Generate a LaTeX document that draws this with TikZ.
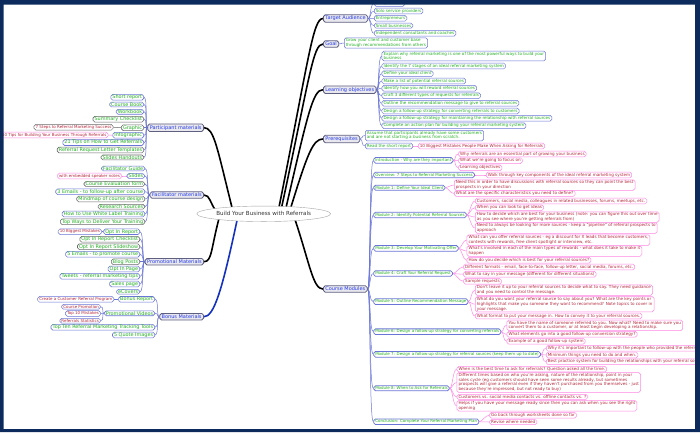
\documentclass[tikz,border=0pt]{standalone}
\usepackage{fontspec}
\setmainfont{DejaVu Sans}
\usetikzlibrary{shapes.geometric}
\definecolor{brd}{RGB}{95,95,130}
\definecolor{brfill}{RGB}{232,232,238}
\definecolor{tblue}{RGB}{40,60,230}
\definecolor{lblue}{RGB}{105,118,215}
\definecolor{tgreen}{RGB}{35,175,35}
\definecolor{lpink}{RGB}{255,135,228}
\definecolor{tred}{RGB}{180,40,60}
\definecolor{dgray}{RGB}{105,105,105}
\definecolor{navy}{RGB}{12,42,92}
\definecolor{trunkblue}{RGB}{20,50,190}
\newcommand\fza{\fontsize{4.12}{4.7}\selectfont}
\newcommand\fzb{\fontsize{4.0}{4.7}\selectfont}
\newcommand\fzc{\fontsize{4.9}{5.6}\selectfont}
\newcommand\fzd{\fontsize{4.0}{4.8}\selectfont}
\newcommand\fze{\fontsize{5}{6}\selectfont}
\newcommand\fzf{\fontsize{5.6}{6.5}\selectfont}
\pgfdeclarelayer{bg}
\pgfdeclarelayer{fg}
\pgfsetlayers{bg,main,fg}
\tikzset{
 base/.style={rounded corners=1.8pt, inner xsep=1.6pt, inner ysep=0.9pt, align=left, fill=white},
 br/.style={base, draw=brd, fill=brfill, line width=0.8pt, text=tblue, font=\fze, inner xsep=2pt, inner ysep=1.3pt},
 gl/.style={base, draw=lblue, line width=0.5pt, text=tgreen, font=\fza},
 md/.style={gl, line width=0.75pt, font=\fzb},
 pl/.style={base, draw=lpink, line width=0.5pt, text=tred, font=\fza},
 lg/.style={base, draw=lblue, line width=0.6pt, text=tgreen, font=\fzc, inner ysep=0.5pt},
 lgy/.style={lg, draw=dgray},
 lr/.style={base, draw=lblue, line width=0.5pt, text=tred, font=\fzd},
 lrp/.style={lr, draw=lpink},
 lrg/.style={lr, draw=dgray},
 cb/.style={draw=lblue, line width=0.5pt},
 cp/.style={draw=lpink, line width=0.5pt},
 cg/.style={draw=dgray, line width=0.5pt},
 trunk/.style={line width=1.6pt, black},
}
\newcommand\lkr[3][cb]{\draw[#1] (#2.east) .. controls +(3,0) and +(-4,0) .. (#3.west);}
\newcommand\lkl[3][cb]{\draw[#1] (#2.west) .. controls +(-3,0) and +(4,0) .. (#3.east);}
\begin{document}
\begin{tikzpicture}[x=1pt,y=-1pt]
\useasboundingbox (0,0) rectangle (700,432);
% centre
\node[ellipse, draw=gray!70, fill=white, minimum width=106pt, minimum height=15.5pt, inner sep=0pt, font=\fzf, text=black!80] (c) at (263.7,213.8) {Build Your Business with Referrals};
% right branches
\node[br, anchor=west] (ta) at (323,18.5) {Target Audience};
\node[br, anchor=west] (goal) at (323,44) {Goal};
\node[br, anchor=west] (lo) at (323,89.7) {Learning objectives};
\node[br, anchor=west] (pre) at (323,139) {Prerequisites};
\node[br, anchor=west] (cm) at (323,289) {Course Modules};
% left branches
\node[br, anchor=east] (pm) at (204,127.7) {Participant materials};
\node[br, anchor=east] (fm) at (204,195) {Facilitator materials};
\node[br, anchor=east] (prm) at (204,261.7) {Promotional Materials};
\node[br, anchor=east] (bm) at (204,316.7) {Bonus Materials};
% target audience
\node[gl, anchor=west] (ta1) at (374,3.5) {Solopreneurs};
\node[gl, anchor=west] (ta2) at (374,11) {Solo service providers};
\node[gl, anchor=west] (ta3) at (374,18.3) {Entrepreneurs};
\node[gl, anchor=west] (ta4) at (374,25.7) {Small businesses};
\node[gl, anchor=west] (ta5) at (374,33.3) {Independent consultants and coaches};
% goal
\node[gl, anchor=west] (g1) at (344,43) {Grow your client and customer base\\through recommendations from others};
% learning objectives
\node[gl, anchor=west] (lo1) at (381.7,56) {Explain why referral marketing is one of the most powerful ways to build your\\business};
\node[gl, anchor=west] (lo2) at (381.7,66) {Identify the 7 stages of an ideal referral marketing system};
\node[gl, anchor=west] (lo3) at (381.7,73.7) {Define your ideal client};
\node[gl, anchor=west] (lo4) at (381.7,81) {Make a list of potential referral sources};
\node[gl, anchor=west] (lo5) at (381.7,88.3) {Identify how you will reward referral sources};
\node[gl, anchor=west] (lo6) at (381.7,95.7) {Craft 3 different types of requests for referrals};
\node[gl, anchor=west] (lo7) at (381.7,103.3) {Outline the recommendation message to give to referral sources};
\node[gl, anchor=west] (lo8) at (381.7,111) {Design a follow-up strategy for converting referrals to customers};
\node[gl, anchor=west] (lo9) at (381.7,118.3) {Design a follow-up strategy for maintaining the relationship with referral sources};
\node[gl, anchor=west] (lo10) at (381.7,125.7) {Complete an action plan for building your referral marketing system};
% prerequisites
\node[gl, anchor=west] (pr1) at (365,135.5) {Assume that participants already have some customers\\and are not starting a business from scratch.};
\node[gl, anchor=west] (pr2) at (365,146) {Read the short report};
\node[pl, anchor=west] (pr3) at (418,146) {10 Biggest Mistakes People Make When Asking for Referrals};
% course modules
\node[md, anchor=west] (m0) at (373.3,160.3) {Introduction - Why are they important};
\node[pl, anchor=west] (m0a) at (458.3,154) {Why referrals are an essential part of growing your business};
\node[pl, anchor=west] (m0b) at (458.3,160.7) {What we're going to focus on};
\node[pl, anchor=west] (m0c) at (458.3,167.7) {Learning objectives};
\node[md, anchor=west] (mov) at (373.3,175) {Overview: 7 Steps to Referral Marketing Success};
\node[pl, anchor=west] (mova) at (486,175) {Walk through key components of the ideal referral marketing system};
\node[md, anchor=west] (m1) at (373.3,187.7) {Module 1: Define Your Ideal Client};
\node[pl, anchor=west] (m1a) at (454,185) {Need this in order to have discussions with referral sources so they can point the best\\prospects in your direction};
\node[pl, anchor=west] (m1b) at (454,193.5) {What are the specific characteristics you need to define?};
\node[md, anchor=west] (m2) at (373.3,215) {Module 2: Identify Potential Referral Sources};
\node[pl, anchor=west] (m2a) at (475,201) {Customers, social media, colleagues in related businesses, forums, meetups, etc.};
\node[pl, anchor=west] (m2b) at (475,207.7) {When you can look to get ideas};
\node[pl, anchor=west] (m2c) at (475,217) {How to decide which are best for your business (note: you can figure this out over time\\as you see where you're getting referrals from)};
\node[pl, anchor=west] (m2d) at (475,228) {Need to always be looking for more sources - keep a ``pipeline'' of referral prospects to\\approach};
\node[md, anchor=west] (m3) at (373.3,248.3) {Module 3: Develop Your Motivating Offer};
\node[pl, anchor=west] (m3a) at (466.7,240) {What can you offer referral sources - eg a discount for X leads that become customers,\\contests with rewards, free client spotlight or interview, etc.};
\node[pl, anchor=west] (m3b) at (466.7,251) {What's involved in each of the main types of rewards - what does it take to make it\\happen};
\node[pl, anchor=west] (m3c) at (466.7,260.3) {How do you decide which is best for your referral sources?};
\node[md, anchor=west] (m4) at (373.3,273.5) {Module 4: Craft Your Referral Request};
\node[pl, anchor=west] (m4a) at (463.3,267) {Different formats - email, face-to-face, follow-up letter, social media, forums, etc.};
\node[pl, anchor=west] (m4b) at (463.3,274.2) {What to say in your message (different for different situations)};
\node[pl, anchor=west] (m4c) at (463.3,281.3) {Sample requests};
\node[md, anchor=west] (m5) at (373.3,301.7) {Module 5: Outline Recommendation Message};
\node[pl, anchor=west] (m5a) at (475,290) {Don't leave it up to your referral sources to decide what to say. They need guidance\\and you need to control the message.};
\node[pl, anchor=west] (m5b) at (475,304.2) {What do you want your referral source to say about you? What are the key points or\\highlights that make you someone they want to recommend? Note topics to cover in\\your message.};
\node[pl, anchor=west] (m5c) at (475,316) {What format to put your message in. How to convey it to your referral sources.};
\node[md, anchor=west] (m6) at (373.3,331.7) {Module 6: Design a follow-up strategy for converting referrals};
\node[pl, anchor=west] (m6a) at (506.7,325.3) {You have the name of someone referred to you. Now what? Need to make sure you\\convert them to a customer, or at least begin developing a relationship.};
\node[pl, anchor=west] (m6b) at (506.7,334.3) {What elements go into a good follow-up conversion strategy?};
\node[pl, anchor=west] (m6c) at (506.7,341.3) {Example of a good follow-up system};
\node[md, anchor=west] (m7) at (373.3,354.3) {Module 7: Design a follow-up strategy for referral sources (keep them up to date)};
\node[pl, anchor=west] (m7a) at (546,348.3) {Why it's important to follow-up with the people who provided the referrals.};
\node[pl, anchor=west] (m7b) at (546,355) {Minimum things you need to do and when.};
\node[pl, anchor=west] (m7c) at (546,361.8) {Best practice system for building the relationships with your referral sources};
\node[md, anchor=west] (m8) at (373.3,388.3) {Module 8: When to Ask for Referrals};
\node[pl, anchor=west] (m8a) at (456.7,369.2) {When is the best time to ask for referrals? Question asked all the time.};
\node[pl, anchor=west] (m8b) at (456.7,382.5) {Different times based on who you're asking, nature of the relationship, point in your\\sales cycle (eg customers should have seen some results already, but sometimes\\prospects will give a referral even if they haven't purchased from you themselves - just\\because they're impressed, but not ready to buy)};
\node[pl, anchor=west] (m8c) at (456.7,396.9) {Customers vs. social media contacts vs. offline contacts vs. ?};
\node[pl, anchor=west] (m8d) at (456.7,405.8) {Helps if you have your message ready since then you can ask when you see the right\\opening};
\node[md, anchor=west] (mc) at (373.3,421.7) {Conclusion: Complete Your Referral Marketing Plan};
\node[pl, anchor=west] (mca) at (489.3,415.2) {Go back through worksheets done so far};
\node[pl, anchor=west] (mcb) at (489.3,422) {Revise where needed};
% participant materials
\node[lg, anchor=east] (p1) at (144,97.3) {Short report};
\node[lg, anchor=east] (p2) at (144,104.5) {Course Book};
\node[lg, anchor=east] (p3) at (144,111.8) {Workbook};
\node[lgy, anchor=east] (p4) at (144,119.2) {Summary Checklist};
\node[lgy, anchor=east] (p5) at (144,127.7) {Graphic};
\node[lrg, anchor=east] (p5a) at (113.3,127.3) {7 Steps to Referral Marketing Success};
\node[lg, anchor=east] (p6) at (144,135.3) {Infographic};
\node[lrp, anchor=east] (p6a) at (108.3,135) {10 Tips for Building Your Business Through Referrals};
\node[lg, anchor=east] (p7) at (144,142.6) {21 Tips on How to Get Referrals};
\node[lgy, anchor=east] (p8) at (144,150) {Referral Request Letter Templates};
\node[lgy, anchor=east] (p9) at (144,157.4) {Slides Handouts};
% facilitator materials
\node[lg, anchor=east] (f1) at (145,168.5) {Facilitator Guide};
\node[lg, anchor=east] (f2) at (145,176) {Slides};
\node[lrp, anchor=east] (f2a) at (121.7,176) {with embedded speaker notes};
\node[lgy, anchor=east] (f3) at (145,184) {Course Evaluation form};
\node[lg, anchor=east] (f4) at (145,191.7) {3 Emails - to follow-up after course};
\node[lgy, anchor=east] (f5) at (145,199) {Mindmap of course design};
\node[lgy, anchor=east] (f6) at (145,206.7) {Research Sources};
\node[lg, anchor=east] (f7) at (145,214) {How to Use White Label Training};
\node[lgy, anchor=east] (f8) at (145,221.7) {Top Ways to Deliver Your Training};
% promotional materials
\node[lg, anchor=east] (o1) at (140,231.7) {Opt In Report};
\node[lr, anchor=east] (o1a) at (101.7,231.7) {10 Biggest Mistakes};
\node[lgy, anchor=east] (o2) at (140,239.3) {Opt In Report Checklist};
\node[lgy, anchor=east] (o3) at (140,246.7) {Opt In Report Slideshow};
\node[lg, anchor=east] (o4) at (140,254.3) {5 Emails - to promote course};
\node[lgy, anchor=east] (o5) at (140,261.7) {Blog Posts};
\node[lg, anchor=east] (o6) at (140,269) {Opt In Page};
\node[lg, anchor=east] (o7) at (140,276.3) {Tweets - referral marketing tips};
\node[lg, anchor=east] (o8) at (140,284) {Sales page};
\node[lg, anchor=east] (o9) at (140,291.7) {eCovers};
% bonus materials
\node[lg, anchor=east] (b1) at (155,299.3) {Bonus Report};
\node[lr, anchor=east] (b1a) at (114,299.3) {Create a Customer Referral Program};
\node[lg, anchor=east] (b2) at (155,313.3) {Promotional Videos};
\node[lr, anchor=east] (b2a) at (100.7,306.7) {Course Promotion};
\node[lr, anchor=east] (b2b) at (100.7,313.5) {Top 10 Mistakes};
\node[lr, anchor=east] (b2c) at (100.7,320.7) {Referrals Statistics};
\node[lg, anchor=east] (b3) at (155,327.3) {Top Ten Referral Marketing Tracking Tools};
\node[lg, anchor=east] (b4) at (155,335) {5 Quote Images};
% start points of trunks on the ellipse
\coordinate (sTA) at (279,207.2);
\coordinate (sGO) at (281.6,207.4);
\coordinate (sLO) at (286,207.7);
\coordinate (sPR) at (290.6,208.2);
\coordinate (sCM) at (295,219.5);
\coordinate (sPM) at (232,207.5);
\coordinate (sFM) at (216,211);
\coordinate (sPO) at (219,218.5);
\coordinate (sBM) at (237,220.5);
\begin{pgfonlayer}{bg}
\fill[white] (0,0) rectangle (700,432);
% trunks
\draw[trunk] (sTA) .. controls +(30,-150) and +(-10,0) .. (ta.west);
\draw[trunk] (sGO) .. controls +(28,-130) and +(-10,0) .. (goal.west);
\draw[trunk] (sLO) .. controls +(22,-95) and +(-10,0) .. (lo.west);
\draw[trunk] (sPR) .. controls +(17,-55) and +(-10,0) .. (pre.west);
\draw[trunk] (sCM) .. controls +(15,45) and +(-10,0) .. (cm.west);
\draw[trunk] (sPM) .. controls +(-15,-60) and +(10,0) .. (pm.east);
\draw[trunk] (sFM) .. controls +(-6,-8) and +(6,0) .. (fm.east);
\draw[trunk] (sPO) .. controls +(-8,30) and +(8,0) .. (prm.east);
\draw[trunk, trunkblue] (sBM) .. controls +(-15,70) and +(10,0) .. (bm.east);
% right connectors
\foreach \n in {ta1,ta2,ta3,ta4,ta5} {\lkr{ta}{\n}}
\lkr{goal}{g1}
\foreach \n in {lo1,lo2,lo3,lo4,lo5,lo6,lo7,lo8,lo9,lo10} {\lkr{lo}{\n}}
\lkr{pre}{pr1} \lkr{pre}{pr2} \lkr[cp]{pr2}{pr3}
\foreach \n in {m0,mov,m1,m2,m3,m4,m5,m6,m7,m8,mc} {\lkr{cm}{\n}}
\foreach \n in {m0a,m0b,m0c} {\lkr[cp]{m0}{\n}}
\lkr[cp]{mov}{mova}
\foreach \n in {m1a,m1b} {\lkr[cp]{m1}{\n}}
\foreach \n in {m2a,m2b,m2c,m2d} {\lkr[cp]{m2}{\n}}
\foreach \n in {m3a,m3b,m3c} {\lkr[cp]{m3}{\n}}
\foreach \n in {m4a,m4b,m4c} {\lkr[cp]{m4}{\n}}
\foreach \n in {m5a,m5b,m5c} {\lkr[cp]{m5}{\n}}
\foreach \n in {m6a,m6b,m6c} {\lkr[cp]{m6}{\n}}
\foreach \n in {m7a,m7b,m7c} {\lkr[cp]{m7}{\n}}
\foreach \n in {m8a,m8b,m8c,m8d} {\lkr[cp]{m8}{\n}}
\foreach \n in {mca,mcb} {\lkr[cp]{mc}{\n}}
% left connectors
\foreach \n in {p1,p2,p3,p4,p5,p6,p7,p8,p9} {\lkl{pm}{\n}}
\lkl[cg]{p5}{p5a} \lkl[cp]{p6}{p6a}
\foreach \n in {f1,f2,f3,f4,f5,f6,f7,f8} {\lkl{fm}{\n}}
\lkl[cp]{f2}{f2a}
\foreach \n in {o1,o2,o3,o4,o5,o6,o7,o8,o9} {\lkl{prm}{\n}}
\lkl{o1}{o1a}
\foreach \n in {b1,b2,b3,b4} {\lkl{bm}{\n}}
\lkl{b1}{b1a}
\foreach \n in {b2a,b2b,b2c} {\lkl{b2}{\n}}
\end{pgfonlayer}
\begin{pgfonlayer}{fg}
\fill[navy, even odd rule] (0,0) rectangle (700,432) (3.5,4.5) rectangle (695,429);
\end{pgfonlayer}
\end{tikzpicture}
\end{document}
